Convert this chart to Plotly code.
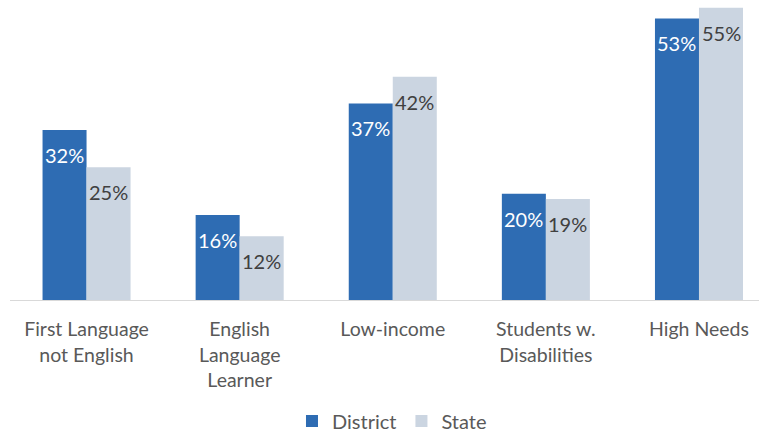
import plotly.graph_objects as go

categories = ["First Language<br>not English", "English<br>Language<br>Learner",
              "Low-income", "Students w.<br>Disabilities", "High Needs"]
district = [32, 16, 37, 20, 53]
state = [25, 12, 42, 19, 55]

district_color = "#2E6CB3"
state_color = "#CBD5E1"
font_family = "Lato, 'Open Sans', sans-serif"

fig = go.Figure()
fig.add_trace(go.Bar(name="District", x=list(range(len(categories))), y=district,
                     marker=dict(color=district_color, line=dict(width=0))))
fig.add_trace(go.Bar(name="State", x=list(range(len(categories))), y=state,
                     marker=dict(color=state_color, line=dict(width=0))))

# Value labels sit just inside the top of each bar
half = 0.1438
annotations = []
for i, (d, s) in enumerate(zip(district, state)):
    annotations.append(dict(x=i - half, y=d, xref="x", yref="y", text=f"{d}%",
                            showarrow=False, yshift=-25,
                            font=dict(size=20, color="white", family=font_family)))
    annotations.append(dict(x=i + half, y=s, xref="x", yref="y", text=f"{s}%",
                            showarrow=False, yshift=-25,
                            font=dict(size=20, color="#404040", family=font_family)))

fig.update_layout(
    width=759, height=432,
    margin=dict(l=10, r=0, t=0, b=132, autoexpand=False),
    barmode="group", bargap=0.425, bargroupgap=0,
    plot_bgcolor="white", paper_bgcolor="white",
    font=dict(family=font_family, color="#595959", size=19.5),
    annotations=annotations,
    showlegend=True,
    legend=dict(orientation="h", x=0.51, xanchor="center", y=-0.403, yanchor="middle",
                font=dict(size=20, color="#595959"), itemwidth=30, traceorder="normal"),
    xaxis=dict(tickmode="array", tickvals=list(range(len(categories))), ticktext=categories,
               range=[-0.5, 4.392], showline=True, linecolor="#D9D9D9", linewidth=1,
               showgrid=False, zeroline=False, ticks="", ticklen=0, automargin=False,
               ticklabelstandoff=12,
               tickfont=dict(size=19.5, color="#595959")),
    yaxis=dict(range=[0, 56.47], visible=False, showgrid=False, zeroline=False,
               automargin=False),
)

fig.write_html("out.html")
